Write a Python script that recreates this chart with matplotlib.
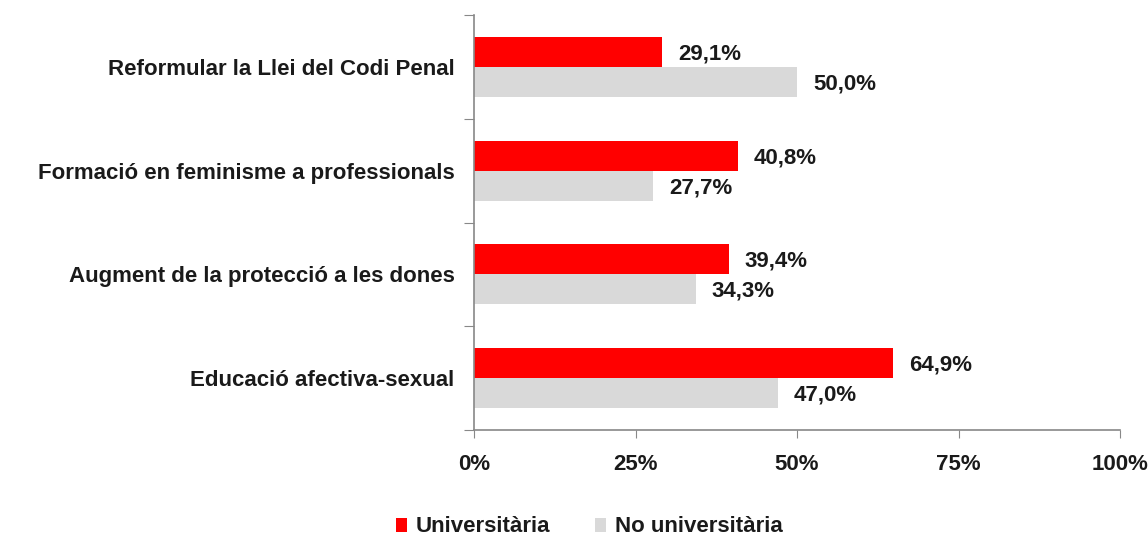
import matplotlib
matplotlib.use("Agg")
import matplotlib.pyplot as plt
import numpy as np

categories = ["Reformular la Llei del Codi Penal",
              "Formació en feminisme a professionals",
              "Augment de la protecció a les dones",
              "Educació afectiva-sexual"]
universitaria = [29.1, 40.8, 39.4, 64.9]
no_universitaria = [50.0, 27.7, 34.3, 47.0]
series_names = ["Universitària", "No universitària"]
xticks = [0, 25, 50, 75, 100]

plt.rcParams['font.family'] = ['Liberation Sans', 'DejaVu Sans']
plt.rcParams['font.weight'] = 'bold'
txt = '#1a1a1a'
fs = 16

fig = plt.figure(figsize=(11.48, 5.39), dpi=100)
ax = fig.add_axes([474/1148, 1-430/539, (1120-474)/1148, (430-15)/539])

y = np.arange(len(categories))
h = 0.29
b1 = ax.barh(y - h/2, universitaria, height=h, color='#FF0000', label=series_names[0])
b2 = ax.barh(y + h/2, no_universitaria, height=h, color='#D9D9D9', label=series_names[1])

for yy, v in zip(y - h/2, universitaria):
    ax.annotate(f"{v:.1f}%".replace('.', ','), (v, yy), xytext=(16, -2), textcoords='offset pixels',
                va='center', ha='left', fontsize=fs, fontweight='bold', color=txt)
for yy, v in zip(y + h/2, no_universitaria):
    ax.annotate(f"{v:.1f}%".replace('.', ','), (v, yy), xytext=(16, -2), textcoords='offset pixels',
                va='center', ha='left', fontsize=fs, fontweight='bold', color=txt)

ax.set_xlim(0, 100)
ax.set_ylim(len(categories) - 0.5, -0.5)
ax.set_xticks(xticks)
ax.set_xticklabels([f"{t}%" for t in xticks], fontsize=fs, fontweight='bold', color=txt)
ax.set_yticks(np.arange(len(categories) + 1) - 0.5)
ax.set_yticklabels([])
ax.set_yticks(y, minor=True)
ax.set_yticklabels(categories, minor=True, fontsize=fs, fontweight='bold', color=txt)
ax.tick_params(axis='y', which='minor', length=0, pad=14)
ax.tick_params(axis='y', which='major', length=7, color='#888888')
ax.tick_params(axis='x', length=6, color='#888888', pad=11)
for s in ['top', 'right']:
    ax.spines[s].set_visible(False)
for s in ['left', 'bottom']:
    ax.spines[s].set_color('#888888')
    ax.spines[s].set_linewidth(1.2)

leg = fig.legend(handles=[b1, b2], loc='center', bbox_to_anchor=(0.513, 1-527/539), ncol=2,
                 frameon=False, fontsize=fs, handlelength=0.5, handleheight=0.6,
                 handletextpad=0.4, columnspacing=2.0)
for t in leg.get_texts():
    t.set_color(txt)
    t.set_fontweight('bold')

fig.savefig("out.png", dpi=100)
